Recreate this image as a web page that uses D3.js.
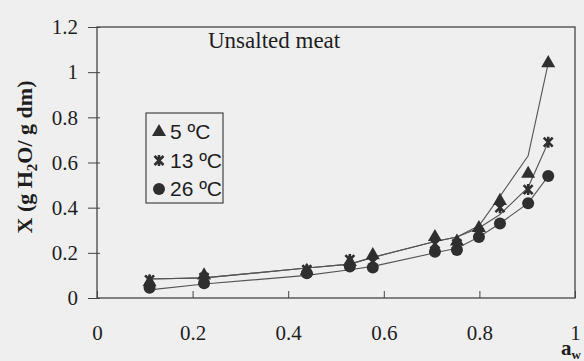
<!DOCTYPE html>
<html>
<head>
<meta charset="utf-8">
<script src="https://cdn.jsdelivr.net/npm/d3@7"></script>
<style>
  html, body { margin: 0; padding: 0; background: #efefef; }
  svg { display: block; }
</style>
</head>
<body>
<svg id="chart"></svg>
<script>
// water activity of the salt solutions
const aw = [0.11, 0.224, 0.439, 0.529, 0.577, 0.707, 0.753, 0.799, 0.843, 0.902, 0.944]

// measured moisture content (g H2O / g dm)
const x5 = [0.07, 0.10, 0.12, 0.16, 0.19, 0.27, 0.25, 0.31, 0.43, 0.55, 1.04]
const x13 = [0.08, 0.09, 0.125, 0.17, 0.16, 0.24, 0.24, 0.29, 0.40, 0.48, 0.69]
const x26 = [0.045, 0.065, 0.11, 0.14, 0.135, 0.205, 0.213, 0.27, 0.33, 0.42, 0.54]

// fitted isotherm curves
const fit5 = [0.084, 0.089, 0.133, 0.15, 0.18, 0.25, 0.27, 0.32, 0.45, 0.63, 1.04]
const fit13 = [0.084, 0.089, 0.133, 0.15, 0.18, 0.25, 0.27, 0.31, 0.37, 0.49, 0.69]
const fit26 = [0.036, 0.062, 0.10, 0.125, 0.14, 0.20, 0.22, 0.27, 0.33, 0.42, 0.54]

const seriesNames = ['5 ºC', '13 ºC', '26 ºC']
const xTicks = [0, 0.2, 0.4, 0.6, 0.8, 1]
const yTicks = [0, 0.2, 0.4, 0.6, 0.8, 1, 1.2]

const W = 584
const H = 361
const ink = '#2f2f2f'

const svg = d3.select('#chart').attr('width', W).attr('height', H)

const x = d3.scaleLinear().domain([0, 1]).range([97, 575])
const y = d3.scaleLinear().domain([0, 1.2]).range([298, 27])

const fmt = (d) => String(+d.toFixed(1))

// frame
svg
  .append('rect')
  .attr('x', x(0))
  .attr('y', y(1.2))
  .attr('width', x(1) - x(0))
  .attr('height', y(0) - y(1.2))
  .attr('fill', 'none')
  .attr('stroke', '#444')
  .attr('stroke-width', 1.3)

// x axis, ticks pointing inside
const gx = svg
  .append('g')
  .attr('transform', `translate(0,${y(0)})`)
  .call(d3.axisBottom(x).tickValues(xTicks).tickFormat(fmt).tickSize(-7).tickPadding(27))
gx.select('.domain').remove()
gx.selectAll('line').attr('stroke', '#444')
gx.selectAll('text')
  .attr('fill', '#1e1e1e')
  .style('font-family', '"Liberation Serif", serif')
  .style('font-size', '21px')

// y axis, ticks crossing the axis
const gy = svg
  .append('g')
  .attr('transform', `translate(${x(0)},0)`)
  .call(d3.axisLeft(y).tickValues(yTicks).tickFormat(fmt).tickSize(9).tickPadding(10))
gy.select('.domain').remove()
gy.selectAll('line').attr('x1', 3).attr('stroke', '#444')
gy.selectAll('text')
  .attr('fill', '#1e1e1e')
  .style('font-family', '"Liberation Serif", serif')
  .style('font-size', '21px')

// axis titles
const yl = svg
  .append('text')
  .attr('transform', `translate(32,157) rotate(-90)`)
  .attr('text-anchor', 'middle')
  .attr('fill', '#1e1e1e')
  .style('font-family', '"Liberation Serif", serif')
  .style('font-weight', 'bold')
  .style('font-size', '22px')
yl.append('tspan').text('X (g H')
yl.append('tspan').attr('dy', 5).style('font-size', '15px').text('2')
yl.append('tspan').attr('dy', -5).text('O/ g dm)')

const xl = svg
  .append('text')
  .attr('x', 561)
  .attr('y', 355)
  .attr('fill', '#1e1e1e')
  .style('font-family', '"Liberation Serif", serif')
  .style('font-weight', 'bold')
  .style('font-size', '21px')
xl.append('tspan').text('a')
xl.append('tspan').attr('dy', 4).style('font-size', '13px').text('w')

svg
  .append('text')
  .attr('x', 208)
  .attr('y', 48)
  .attr('fill', '#1e1e1e')
  .style('font-family', '"Liberation Serif", serif')
  .style('font-size', '23px')
  .text('Unsalted meat')

// fitted lines
const line = d3
  .line()
  .x((d, i) => x(aw[i]))
  .y((d) => y(d))

svg
  .selectAll('path.fit')
  .data([fit26, fit13, fit5])
  .join('path')
  .attr('class', 'fit')
  .attr('fill', 'none')
  .attr('stroke', '#555')
  .attr('stroke-width', 1.1)
  .attr('d', line)

// marker shapes
const star = (s) => `M${-s},${-s}L${s},${s}M${-s},${s}L${s},${-s}M0,${-s - 1}L0,${s + 1}`
const markers = [
  { g: (sel) => sel.append('path').attr('d', d3.symbol(d3.symbolTriangle, 85)()).attr('fill', ink) },
  {
    g: (sel) =>
      sel.append('path').attr('d', star(4.5)).attr('fill', 'none').attr('stroke', ink).attr('stroke-width', 2.6),
  },
  { g: (sel) => sel.append('circle').attr('r', 6).attr('fill', ink) },
]

const series = [x26, x13, x5]
const order = [2, 1, 0]
series.forEach((vals, k) => {
  const m = markers[order[k]]
  svg
    .append('g')
    .selectAll('g')
    .data(vals)
    .join('g')
    .attr('transform', (d, i) => `translate(${x(aw[i])},${y(d)})`)
    .each(function () {
      m.g(d3.select(this))
    })
})

// legend
svg
  .append('rect')
  .attr('x', 146)
  .attr('y', 113)
  .attr('width', 77)
  .attr('height', 90)
  .attr('fill', 'none')
  .attr('stroke', '#444')
  .attr('stroke-width', 1.2)

const leg = svg
  .selectAll('g.leg')
  .data(seriesNames)
  .join('g')
  .attr('class', 'leg')
  .attr('transform', (d, i) => `translate(159,${132 + i * 28.5})`)

leg.each(function (d, i) {
  markers[i].g(d3.select(this))
})

leg
  .append('text')
  .attr('x', 11)
  .attr('dy', '0.35em')
  .attr('fill', '#1e1e1e')
  .style('font-family', '"Liberation Sans", Arial, sans-serif')
  .style('font-size', '21px')
  .text((d) => d)
</script>
</body>
</html>
